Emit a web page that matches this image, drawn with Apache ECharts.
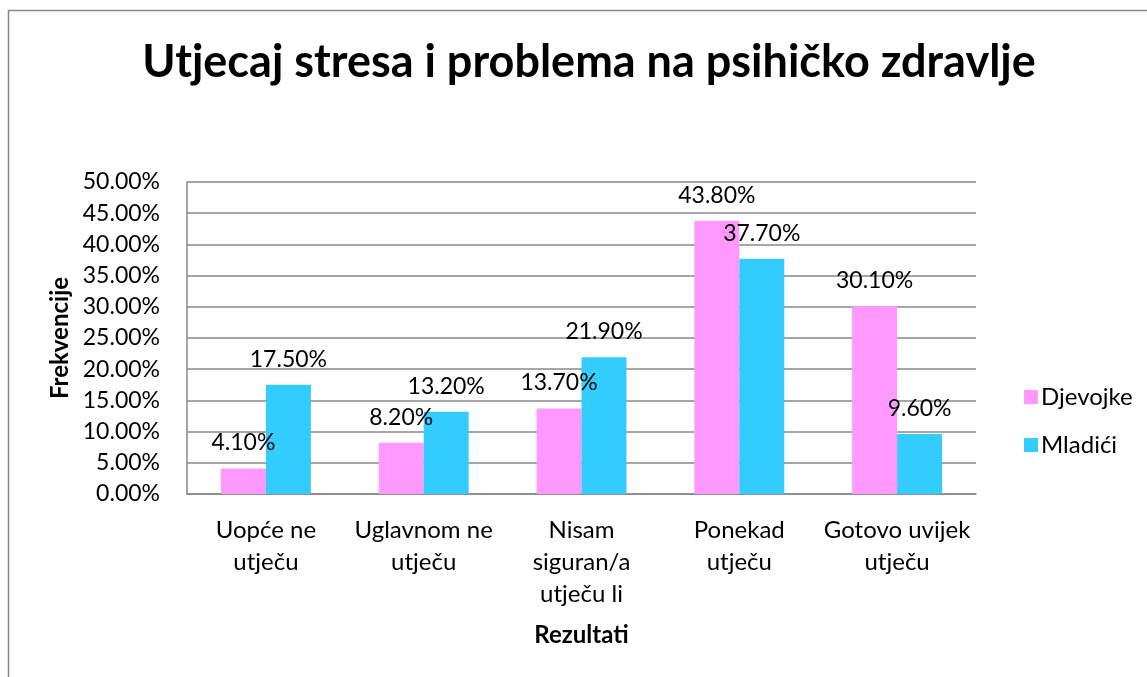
<!DOCTYPE html>
<html>
<head>
<meta charset="utf-8">
<script src="https://cdn.jsdelivr.net/npm/echarts@6/dist/echarts.min.js"></script>
<style>
  html, body { margin: 0; padding: 0; background: #fff; }
  #chart { width: 1147px; height: 677px; }
</style>
</head>
<body>
<div id="chart"></div>
<script>
// Survey answers (categories) and share of respondents per group, in percent
const categories = [
  'Uopće ne\nutječu',
  'Uglavnom ne\nutječu',
  'Nisam\nsiguran/a\nutječu li',
  'Ponekad\nutječu',
  'Gotovo uvijek\nutječu'
];
const djevojke = [4.1, 8.2, 13.7, 43.8, 30.1];
const mladici = [17.5, 13.2, 21.9, 37.7, 9.6];
const seriesNames = ['Djevojke', 'Mladići'];
const yAxisTitle = 'Frekvencije';

const FONT = 'Lato';
const chart = echarts.init(document.getElementById('chart'));

const pct = v => v.toFixed(2) + '%';

const barLabel = {
  show: true,
  position: 'top',
  distance: 14,
  fontFamily: FONT,
  fontSize: 23,
  color: '#000',
  formatter: p => pct(p.value)
};

chart.setOption({
  animation: false,
  backgroundColor: '#fff',
  textStyle: { fontFamily: FONT },
  title: {
    text: 'Utjecaj stresa i problema na psihičko zdravlje',
    left: 584,
    top: 35,
    textAlign: 'center',
    textStyle: { fontFamily: FONT, fontWeight: 'bold', fontSize: 45, color: '#000' }
  },
  legend: {
    orient: 'vertical',
    left: 1019,
    top: 380,
    itemWidth: 14,
    itemHeight: 14,
    itemGap: 24,
    icon: 'rect',
    textStyle: { fontFamily: FONT, fontSize: 24, color: '#000', padding: [0, 0, 0, -2] },
    data: seriesNames
  },
  grid: { left: 187, right: 171, top: 182, bottom: 183, containLabel: false },
  xAxis: {
    type: 'category',
    data: categories,
    name: 'Rezultati',
    nameLocation: 'middle',
    nameGap: 129,
    nameTextStyle: { fontFamily: FONT, fontWeight: 'bold', fontSize: 24, color: '#000' },
    axisLine: { lineStyle: { color: '#888', width: 1.5 } },
    axisTick: { show: false },
    axisLabel: {
      interval: 0,
      margin: 20,
      fontFamily: FONT,
      fontSize: 24,
      lineHeight: 32,
      color: '#000'
    }
  },
  yAxis: {
    type: 'value',
    min: 0,
    max: 50,
    interval: 5,
    axisLine: { show: true, lineStyle: { color: '#888', width: 1.5 } },
    axisTick: { show: false },
    splitLine: { lineStyle: { color: '#888', width: 1.5 } },
    axisLabel: {
      margin: 27,
      fontFamily: FONT,
      fontSize: 23,
      color: '#000',
      formatter: v => pct(v)
    }
  },
  series: [
    {
      name: seriesNames[0],
      type: 'bar',
      data: djevojke,
      barGap: '0%',
      barCategoryGap: '43%',
      itemStyle: { color: '#FF99FF' },
      label: barLabel
    },
    {
      name: seriesNames[1],
      type: 'bar',
      data: mladici,
      barGap: '0%',
      barCategoryGap: '43%',
      itemStyle: { color: '#33CCFF' },
      label: barLabel
    }
  ],
  graphic: [
    {
      // outer chart frame
      type: 'rect',
      silent: true,
      z: -1,
      shape: { x: 8.5, y: 10.5, width: 1300, height: 800 },
      style: { fill: 'none', stroke: '#888', lineWidth: 1.5 }
    },
    {
      // vertical value-axis title, set close to the tick labels
      type: 'text',
      silent: true,
      x: 60,
      y: 338,
      rotation: Math.PI / 2,
      style: {
        text: yAxisTitle,
        fontFamily: FONT,
        fontWeight: 'bold',
        fontSize: 24,
        fill: '#000',
        textAlign: 'center',
        textVerticalAlign: 'middle'
      }
    }
  ]
});
</script>
</body>
</html>
